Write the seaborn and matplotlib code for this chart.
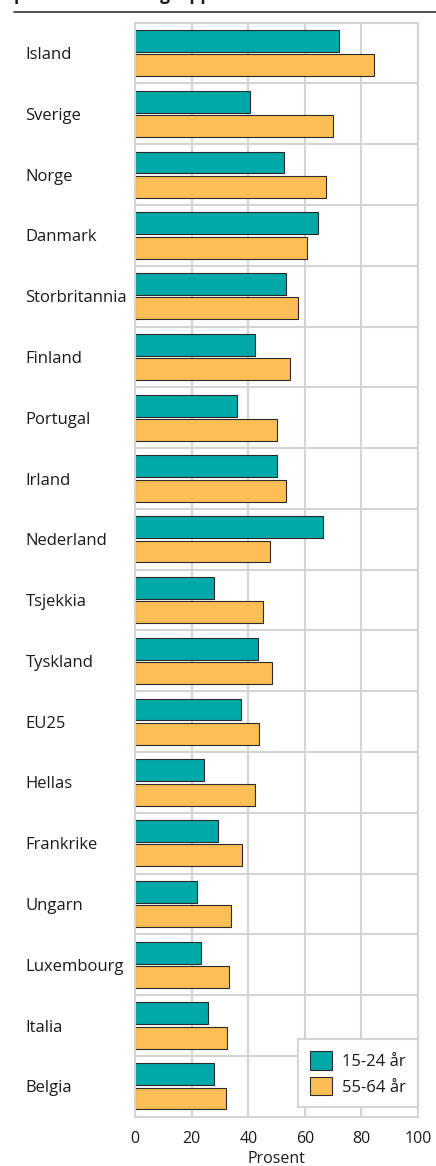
import numpy as np
import pandas as pd
import seaborn as sns
import matplotlib.pyplot as plt
from matplotlib.ticker import FixedLocator

land = ['Island', 'Sverige', 'Norge', 'Danmark', 'Storbritannia', 'Finland',
        'Portugal', 'Irland', 'Nederland', 'Tsjekkia', 'Tyskland', 'EU25',
        'Hellas', 'Frankrike', 'Ungarn', 'Luxembourg', 'Italia', 'Belgia']
ung = [72.2, 40.5, 52.5, 64.7, 53.3, 42.2, 35.9, 50.1, 66.3, 27.7, 43.5, 37.4,
       24.2, 29.4, 21.8, 23.3, 25.6, 27.7]
eldre = [84.5, 69.8, 67.6, 60.9, 57.5, 54.6, 50.2, 53.2, 47.8, 45.3, 48.5, 43.6,
         42.5, 37.7, 33.7, 33.3, 32.5, 32.2]
grupper = ['15-24 år', '55-64 år']
farger = ['#00A8A8', '#FDBE55']

df = pd.DataFrame({
    'land': land * 2,
    'gruppe': [grupper[0]] * len(land) + [grupper[1]] * len(land),
    'verdi': ung + eldre,
})

sns.set_style('white')
plt.rcParams['font.family'] = ['Open Sans', 'DejaVu Sans']
grid_col = '#D4D4D4'
txt_col = '#1a1a1a'

fig = plt.figure(figsize=(4.36, 11.66), dpi=100)
ax = fig.add_axes([135.3 / 436, 1 - 1116.7 / 1166, (418 - 135.3) / 436, (1116.7 - 22.7) / 1166])

sns.barplot(data=df, y='land', x='verdi', hue='gruppe', palette=farger, saturation=1,
            orient='h', gap=0.1, edgecolor='#2a2a2a', linewidth=0.8, ax=ax)

ax.set_xlim(0, 100)
ax.set_ylim(len(land) - 0.5, -0.5)
ax.set_xticks(range(0, 101, 20))
ax.yaxis.set_minor_locator(FixedLocator(np.arange(0.5, len(land) - 0.5, 1)))
ax.set_axisbelow(True)
ax.grid(axis='x', which='major', color=grid_col, linewidth=1.5)
ax.grid(axis='y', which='minor', color=grid_col, linewidth=1.5)
for s in ax.spines.values():
    s.set_color(grid_col)
    s.set_linewidth(1.5)

ax.tick_params(axis='both', which='both', length=0, colors=txt_col)
ax.tick_params(axis='x', pad=10, labelsize=11.5)
ax.tick_params(axis='y', pad=79, labelsize=12)
for t in ax.get_yticklabels():
    t.set_horizontalalignment('left')
ax.set_ylabel('')
ax.set_xlabel('Prosent', fontsize=11.5, color=txt_col, labelpad=3)

handles, labels = ax.get_legend_handles_labels()
leg = ax.legend(handles, labels, loc='lower right', bbox_to_anchor=(1.0, 9.4 / 1094),
                borderaxespad=0, fontsize=12, handlelength=1.35, handleheight=1.35,
                labelspacing=0.4, handletextpad=0.6, borderpad=0.7,
                frameon=True, fancybox=False, edgecolor=grid_col, framealpha=1)
leg.get_frame().set_linewidth(1.5)
for t in leg.get_texts():
    t.set_color(txt_col)

# tittel (avkuttet i originalen) og strek under
fig.text(14 / 436, 1 + 0.5 / 1166, 'personer i aldersgruppen', fontsize=12.5,
         fontweight='bold', va='baseline', ha='left', color=txt_col)
fig.add_artist(plt.Line2D([14 / 436, 1], [1 - 12 / 1166] * 2, color='#333333', linewidth=1.2))

fig.savefig('out.png', dpi=100)
